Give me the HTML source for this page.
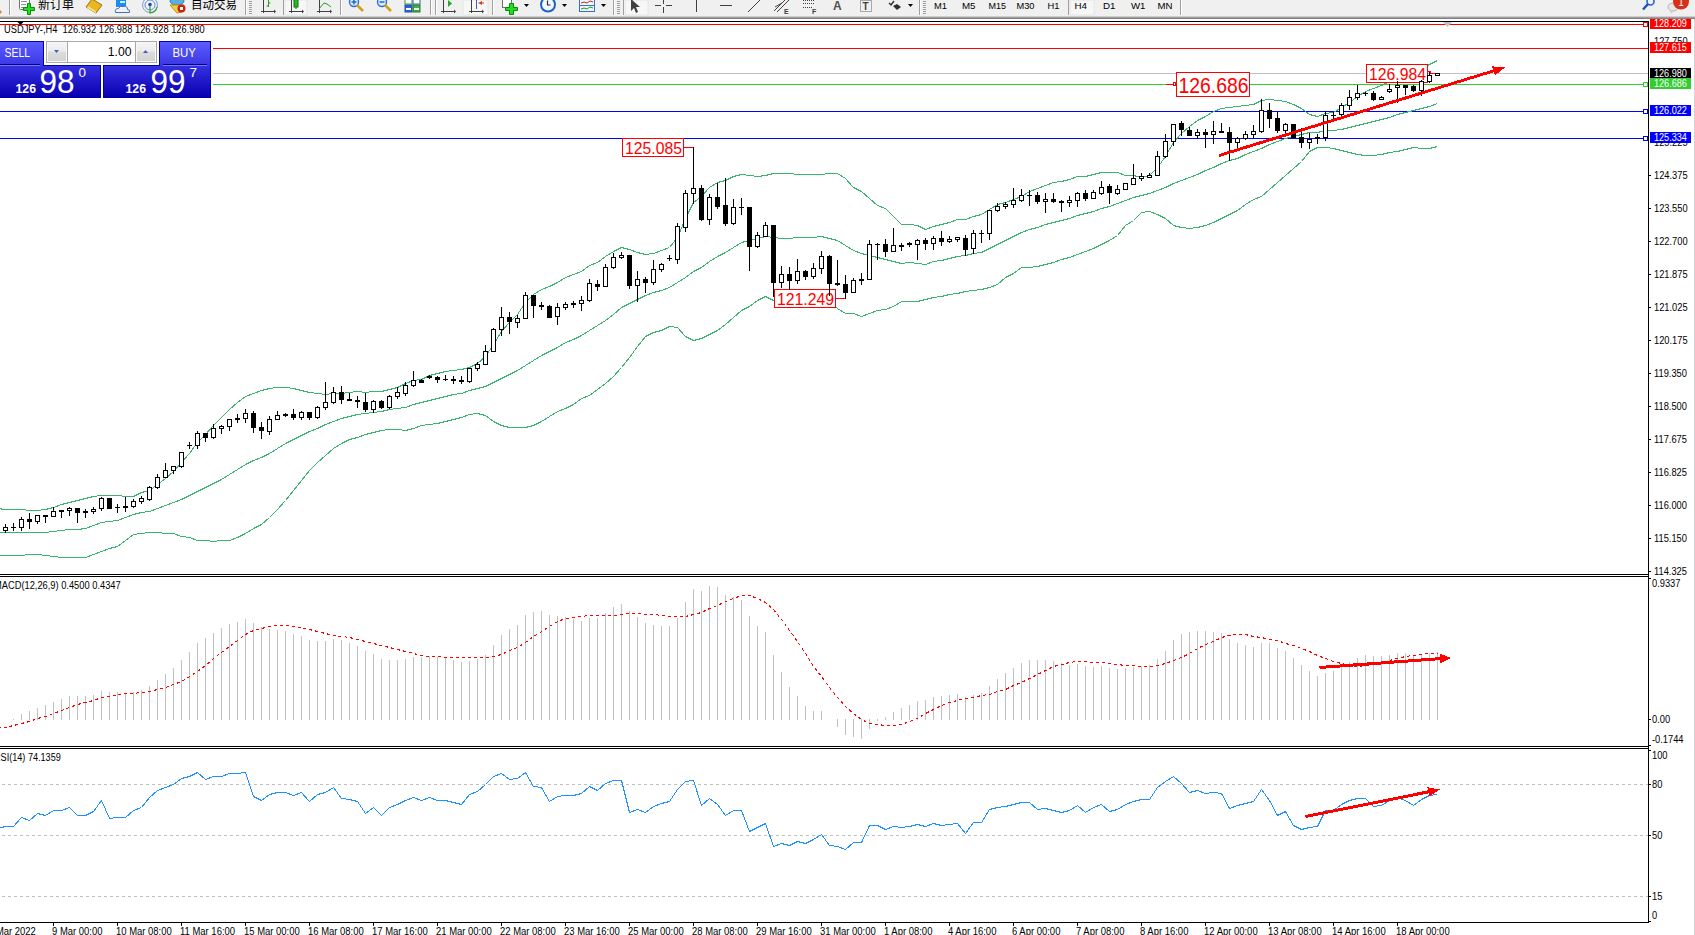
<!DOCTYPE html>
<html><head><meta charset="utf-8"><title>MT4 USDJPY H4</title>
<style>
html,body{margin:0;padding:0;width:1695px;height:935px;overflow:hidden;background:#fff}
body{position:relative;font-family:'Liberation Sans', Arial, sans-serif}
</style></head><body>
<svg id="chart" width="1695" height="935" viewBox="0 0 1695 935" style="position:absolute;left:0;top:0" font-family="'Liberation Sans', Arial, sans-serif"><rect x="0" y="0" width="1695" height="935" fill="#fff"/><rect x="1694" y="17" width="1" height="918" fill="#d4d4d4"/><rect x="0" y="24" width="1648" height="1" fill="#ff0000"/><rect x="0" y="48" width="1648" height="1" fill="#ff0000"/><rect x="0" y="73" width="1648" height="1" fill="#c0c0c0"/><rect x="0" y="84" width="1648" height="1" fill="#32cd32"/><rect x="0" y="111" width="1648" height="1" fill="#0000ff"/><rect x="0" y="138" width="1648" height="1" fill="#0000ff"/><polyline points="-2.5,508.5 5.5,509.5 13.5,509.5 21.5,509.5 29.5,510.5 37.5,510.5 45.5,509.5 53.5,507.5 61.5,504.5 69.5,502.5 77.5,500.5 85.5,498.5 93.5,496.5 101.5,495.5 109.5,495.5 117.5,495.5 125.5,496.5 133.5,496.5 141.5,492.5 149.5,490.5 157.5,484.5 165.5,478.5 173.5,471.5 181.5,462.5 189.5,453.5 197.5,442.5 205.5,434.5 213.5,425.5 221.5,417.5 229.5,409.5 237.5,402.5 245.5,396.5 253.5,393.5 261.5,390.5 269.5,388.5 277.5,387.5 285.5,387.5 293.5,388.5 301.5,390.5 309.5,392.5 317.5,393.5 325.5,394.5 333.5,393.5 341.5,393.5 349.5,392.5 357.5,391.5 365.5,392.5 373.5,391.5 381.5,391.5 389.5,389.5 397.5,387.5 405.5,383.5 413.5,380.5 421.5,379.5 429.5,375.5 437.5,373.5 445.5,371.5 453.5,370.5 461.5,369.5 469.5,367.5 477.5,363.5 485.5,356.5 493.5,344.5 501.5,331.5 509.5,322.5 517.5,314.5 525.5,302.5 533.5,294.5 541.5,289.5 549.5,286.5 557.5,282.5 565.5,277.5 573.5,274.5 581.5,271.5 589.5,265.5 597.5,262.5 605.5,256.5 613.5,251.5 621.5,247.5 629.5,249.5 637.5,252.5 645.5,254.5 653.5,253.5 661.5,250.5 669.5,247.5 677.5,237.5 685.5,218.5 693.5,202.5 701.5,196.5 709.5,187.5 717.5,182.5 725.5,180.5 733.5,176.5 741.5,174.5 749.5,175.5 757.5,176.5 765.5,175.5 773.5,173.5 781.5,173.5 789.5,173.5 797.5,174.5 805.5,174.5 813.5,174.5 821.5,174.5 829.5,173.5 837.5,173.5 845.5,178.5 853.5,187.5 861.5,191.5 869.5,198.5 877.5,205.5 885.5,208.5 893.5,216.5 901.5,224.5 909.5,224.5 917.5,225.5 925.5,229.5 933.5,226.5 941.5,224.5 949.5,222.5 957.5,219.5 965.5,219.5 973.5,216.5 981.5,214.5 989.5,209.5 997.5,204.5 1005.5,202.5 1013.5,199.5 1021.5,196.5 1029.5,191.5 1037.5,188.5 1045.5,185.5 1053.5,182.5 1061.5,181.5 1069.5,179.5 1077.5,176.5 1085.5,176.5 1093.5,174.5 1101.5,172.5 1109.5,172.5 1117.5,172.5 1125.5,175.5 1133.5,175.5 1141.5,177.5 1149.5,175.5 1157.5,167.5 1165.5,156.5 1173.5,142.5 1181.5,133.5 1189.5,126.5 1197.5,120.5 1205.5,116.5 1213.5,111.5 1221.5,108.5 1229.5,107.5 1237.5,106.5 1245.5,105.5 1253.5,104.5 1261.5,100.5 1269.5,99.5 1277.5,100.5 1285.5,101.5 1293.5,104.5 1301.5,108.5 1309.5,114.5 1317.5,116.5 1325.5,113.5 1333.5,112.5 1341.5,107.5 1349.5,102.5 1357.5,96.5 1365.5,91.5 1373.5,88.5 1381.5,85.5 1389.5,81.5 1397.5,77.5 1405.5,74.5 1413.5,72.5 1421.5,68.5 1429.5,64.5 1437.5,60.5" fill="none" stroke="#3cb371" stroke-width="1" shape-rendering="crispEdges"/><polyline points="-2.5,532.5 5.5,532.5 13.5,532.5 21.5,532.5 29.5,532.5 37.5,532.5 45.5,532.5 53.5,531.5 61.5,530.5 69.5,529.5 77.5,529.5 85.5,528.5 93.5,525.5 101.5,522.5 109.5,521.5 117.5,520.5 125.5,517.5 133.5,514.5 141.5,512.5 149.5,511.5 157.5,508.5 165.5,505.5 173.5,502.5 181.5,499.5 189.5,495.5 197.5,491.5 205.5,487.5 213.5,483.5 221.5,479.5 229.5,474.5 237.5,469.5 245.5,464.5 253.5,460.5 261.5,457.5 269.5,453.5 277.5,448.5 285.5,443.5 293.5,439.5 301.5,435.5 309.5,431.5 317.5,428.5 325.5,424.5 333.5,421.5 341.5,418.5 349.5,416.5 357.5,414.5 365.5,413.5 373.5,412.5 381.5,411.5 389.5,409.5 397.5,408.5 405.5,407.5 413.5,404.5 421.5,402.5 429.5,400.5 437.5,398.5 445.5,396.5 453.5,394.5 461.5,393.5 469.5,390.5 477.5,388.5 485.5,386.5 493.5,382.5 501.5,378.5 509.5,374.5 517.5,370.5 525.5,365.5 533.5,360.5 541.5,355.5 549.5,351.5 557.5,347.5 565.5,342.5 573.5,339.5 581.5,335.5 589.5,330.5 597.5,325.5 605.5,320.5 613.5,314.5 621.5,307.5 629.5,303.5 637.5,299.5 645.5,295.5 653.5,292.5 661.5,290.5 669.5,287.5 677.5,282.5 685.5,277.5 693.5,271.5 701.5,267.5 709.5,261.5 717.5,256.5 725.5,252.5 733.5,247.5 741.5,242.5 749.5,240.5 757.5,238.5 765.5,236.5 773.5,237.5 781.5,238.5 789.5,238.5 797.5,237.5 805.5,237.5 813.5,237.5 821.5,236.5 829.5,238.5 837.5,240.5 845.5,245.5 853.5,250.5 861.5,253.5 869.5,255.5 877.5,257.5 885.5,259.5 893.5,261.5 901.5,263.5 909.5,262.5 917.5,263.5 925.5,264.5 933.5,261.5 941.5,260.5 949.5,258.5 957.5,256.5 965.5,255.5 973.5,253.5 981.5,252.5 989.5,248.5 997.5,244.5 1005.5,240.5 1013.5,236.5 1021.5,232.5 1029.5,229.5 1037.5,227.5 1045.5,224.5 1053.5,222.5 1061.5,220.5 1069.5,218.5 1077.5,215.5 1085.5,213.5 1093.5,211.5 1101.5,208.5 1109.5,206.5 1117.5,203.5 1125.5,200.5 1133.5,197.5 1141.5,195.5 1149.5,193.5 1157.5,190.5 1165.5,187.5 1173.5,183.5 1181.5,180.5 1189.5,177.5 1197.5,174.5 1205.5,170.5 1213.5,167.5 1221.5,163.5 1229.5,160.5 1237.5,158.5 1245.5,154.5 1253.5,151.5 1261.5,148.5 1269.5,144.5 1277.5,141.5 1285.5,138.5 1293.5,136.5 1301.5,134.5 1309.5,132.5 1317.5,132.5 1325.5,130.5 1333.5,130.5 1341.5,129.5 1349.5,127.5 1357.5,125.5 1365.5,123.5 1373.5,121.5 1381.5,119.5 1389.5,117.5 1397.5,114.5 1405.5,112.5 1413.5,110.5 1421.5,108.5 1429.5,106.5 1437.5,103.5" fill="none" stroke="#3cb371" stroke-width="1" shape-rendering="crispEdges"/><polyline points="-2.5,555.5 5.5,555.5 13.5,555.5 21.5,555.5 29.5,554.5 37.5,554.5 45.5,555.5 53.5,556.5 61.5,557.5 69.5,557.5 77.5,557.5 85.5,557.5 93.5,554.5 101.5,551.5 109.5,548.5 117.5,546.5 125.5,540.5 133.5,534.5 141.5,533.5 149.5,532.5 157.5,532.5 165.5,533.5 173.5,533.5 181.5,536.5 189.5,537.5 197.5,540.5 205.5,540.5 213.5,541.5 221.5,540.5 229.5,540.5 237.5,537.5 245.5,533.5 253.5,528.5 261.5,524.5 269.5,517.5 277.5,509.5 285.5,500.5 293.5,490.5 301.5,480.5 309.5,470.5 317.5,462.5 325.5,455.5 333.5,448.5 341.5,443.5 349.5,439.5 357.5,437.5 365.5,434.5 373.5,432.5 381.5,430.5 389.5,429.5 397.5,429.5 405.5,430.5 413.5,428.5 421.5,425.5 429.5,424.5 437.5,423.5 445.5,421.5 453.5,419.5 461.5,417.5 469.5,414.5 477.5,413.5 485.5,415.5 493.5,421.5 501.5,425.5 509.5,427.5 517.5,427.5 525.5,427.5 533.5,425.5 541.5,421.5 549.5,416.5 557.5,411.5 565.5,408.5 573.5,404.5 581.5,398.5 589.5,395.5 597.5,389.5 605.5,383.5 613.5,376.5 621.5,367.5 629.5,357.5 637.5,346.5 645.5,336.5 653.5,332.5 661.5,330.5 669.5,326.5 677.5,327.5 685.5,336.5 693.5,340.5 701.5,338.5 709.5,334.5 717.5,330.5 725.5,324.5 733.5,317.5 741.5,310.5 749.5,306.5 757.5,300.5 765.5,296.5 773.5,300.5 781.5,303.5 789.5,302.5 797.5,301.5 805.5,300.5 813.5,299.5 821.5,298.5 829.5,302.5 837.5,308.5 845.5,313.5 853.5,313.5 861.5,316.5 869.5,313.5 877.5,310.5 885.5,309.5 893.5,306.5 901.5,301.5 909.5,301.5 917.5,301.5 925.5,299.5 933.5,297.5 941.5,296.5 949.5,294.5 957.5,293.5 965.5,291.5 973.5,290.5 981.5,289.5 989.5,287.5 997.5,284.5 1005.5,277.5 1013.5,273.5 1021.5,267.5 1029.5,267.5 1037.5,266.5 1045.5,264.5 1053.5,262.5 1061.5,259.5 1069.5,257.5 1077.5,254.5 1085.5,251.5 1093.5,248.5 1101.5,244.5 1109.5,240.5 1117.5,235.5 1125.5,225.5 1133.5,220.5 1141.5,212.5 1149.5,211.5 1157.5,214.5 1165.5,218.5 1173.5,225.5 1181.5,227.5 1189.5,228.5 1197.5,227.5 1205.5,225.5 1213.5,222.5 1221.5,218.5 1229.5,214.5 1237.5,210.5 1245.5,204.5 1253.5,199.5 1261.5,196.5 1269.5,189.5 1277.5,182.5 1285.5,175.5 1293.5,168.5 1301.5,161.5 1309.5,151.5 1317.5,147.5 1325.5,147.5 1333.5,148.5 1341.5,150.5 1349.5,152.5 1357.5,154.5 1365.5,155.5 1373.5,155.5 1381.5,154.5 1389.5,152.5 1397.5,151.5 1405.5,149.5 1413.5,147.5 1421.5,148.5 1429.5,148.5 1437.5,146.5" fill="none" stroke="#3cb371" stroke-width="1" shape-rendering="crispEdges"/><rect x="622.5" y="138.5" width="61" height="18" fill="#fff" stroke="#ff0000" stroke-width="1" shape-rendering="crispEdges"/><text x="625" y="154" font-size="16.5" fill="#ff0000" text-anchor="start" font-weight="normal" textLength="57" lengthAdjust="spacingAndGlyphs">125.085</text><rect x="684" y="147" width="10" height="1" fill="#ff0000"/><rect x="774.5" y="289.5" width="61" height="18" fill="#fff" stroke="#ff0000" stroke-width="1" shape-rendering="crispEdges"/><text x="777" y="305" font-size="16.5" fill="#ff0000" text-anchor="start" font-weight="normal" textLength="57" lengthAdjust="spacingAndGlyphs">121.249</text><rect x="836" y="298" width="10" height="1" fill="#ff0000"/><rect x="1176.5" y="72.5" width="73" height="24" fill="#fff" stroke="#ff0000" stroke-width="1" shape-rendering="crispEdges"/><text x="1178.5" y="93" font-size="22" fill="#ff0000" text-anchor="start" font-weight="normal" textLength="70" lengthAdjust="spacingAndGlyphs">126.686</text><rect x="1173.5" y="82.5" width="2" height="3" fill="#fff" stroke="#ff0000" stroke-width="1" shape-rendering="crispEdges"/><rect x="1166" y="84" width="7" height="1" fill="#ff0000"/><rect x="1366.5" y="64.5" width="61" height="18" fill="#fff" stroke="#ff0000" stroke-width="1" shape-rendering="crispEdges"/><text x="1369" y="80" font-size="16.5" fill="#ff0000" text-anchor="start" font-weight="normal" textLength="57" lengthAdjust="spacingAndGlyphs">126.984</text><rect x="1428" y="71" width="2" height="1" fill="#ff0000"/><rect x="1430" y="71" width="1" height="3" fill="#ff0000"/><rect x="1430" y="73" width="6" height="1" fill="#ff0000"/><g fill="#000"><rect x="5" y="524" width="1" height="9"/><rect x="3" y="527" width="5" height="4"/><rect x="13" y="523" width="1" height="8"/><rect x="11" y="527" width="5" height="1"/><rect x="21" y="517" width="1" height="14"/><rect x="19" y="519" width="5" height="9"/><rect x="29" y="513" width="1" height="16"/><rect x="27" y="519" width="5" height="3"/><rect x="37" y="515" width="1" height="9"/><rect x="35" y="515" width="5" height="7"/><rect x="45" y="515" width="1" height="8"/><rect x="43" y="515" width="5" height="2"/><rect x="53" y="507" width="1" height="10"/><rect x="51" y="511" width="5" height="6"/><rect x="61" y="510" width="1" height="8"/><rect x="59" y="510" width="5" height="2"/><rect x="69" y="507" width="1" height="9"/><rect x="67" y="508" width="5" height="3"/><rect x="77" y="508" width="1" height="15"/><rect x="75" y="508" width="5" height="5"/><rect x="85" y="509" width="1" height="9"/><rect x="83" y="511" width="5" height="2"/><rect x="93" y="507" width="1" height="7"/><rect x="91" y="509" width="5" height="3"/><rect x="101" y="497" width="1" height="14"/><rect x="99" y="498" width="5" height="11"/><rect x="109" y="498" width="1" height="11"/><rect x="107" y="498" width="5" height="11"/><rect x="117" y="504" width="1" height="9"/><rect x="115" y="507" width="5" height="1"/><rect x="125" y="497" width="1" height="15"/><rect x="123" y="506" width="5" height="2"/><rect x="133" y="499" width="1" height="9"/><rect x="131" y="501" width="5" height="6"/><rect x="141" y="496" width="1" height="8"/><rect x="139" y="498" width="5" height="4"/><rect x="149" y="486" width="1" height="15"/><rect x="147" y="487" width="5" height="13"/><rect x="157" y="474" width="1" height="15"/><rect x="155" y="477" width="5" height="11"/><rect x="165" y="463" width="1" height="15"/><rect x="163" y="470" width="5" height="8"/><rect x="173" y="466" width="1" height="8"/><rect x="171" y="466" width="5" height="5"/><rect x="181" y="452" width="1" height="16"/><rect x="179" y="452" width="5" height="15"/><rect x="189" y="442" width="1" height="7"/><rect x="187" y="445" width="5" height="1"/><rect x="197" y="431" width="1" height="18"/><rect x="195" y="433" width="5" height="13"/><rect x="205" y="433" width="1" height="9"/><rect x="203" y="433" width="5" height="5"/><rect x="213" y="424" width="1" height="15"/><rect x="211" y="428" width="5" height="10"/><rect x="221" y="425" width="1" height="9"/><rect x="219" y="426" width="5" height="3"/><rect x="229" y="419" width="1" height="12"/><rect x="227" y="419" width="5" height="8"/><rect x="237" y="414" width="1" height="9"/><rect x="235" y="418" width="5" height="2"/><rect x="245" y="409" width="1" height="14"/><rect x="243" y="413" width="5" height="6"/><rect x="253" y="411" width="1" height="22"/><rect x="251" y="413" width="5" height="15"/><rect x="261" y="422" width="1" height="17"/><rect x="259" y="427" width="5" height="4"/><rect x="269" y="416" width="1" height="19"/><rect x="267" y="419" width="5" height="13"/><rect x="277" y="411" width="1" height="9"/><rect x="275" y="415" width="5" height="5"/><rect x="285" y="413" width="1" height="4"/><rect x="283" y="414" width="5" height="2"/><rect x="293" y="409" width="1" height="11"/><rect x="291" y="414" width="5" height="4"/><rect x="301" y="411" width="1" height="9"/><rect x="299" y="412" width="5" height="6"/><rect x="309" y="412" width="1" height="8"/><rect x="307" y="412" width="5" height="6"/><rect x="317" y="406" width="1" height="13"/><rect x="315" y="407" width="5" height="11"/><rect x="325" y="382" width="1" height="28"/><rect x="323" y="402" width="5" height="6"/><rect x="333" y="387" width="1" height="17"/><rect x="331" y="392" width="5" height="11"/><rect x="341" y="386" width="1" height="18"/><rect x="339" y="392" width="5" height="8"/><rect x="349" y="393" width="1" height="8"/><rect x="347" y="399" width="5" height="2"/><rect x="357" y="396" width="1" height="12"/><rect x="355" y="400" width="5" height="2"/><rect x="365" y="393" width="1" height="19"/><rect x="363" y="402" width="5" height="8"/><rect x="373" y="400" width="1" height="13"/><rect x="371" y="401" width="5" height="9"/><rect x="381" y="400" width="1" height="9"/><rect x="379" y="401" width="5" height="7"/><rect x="389" y="395" width="1" height="14"/><rect x="387" y="396" width="5" height="12"/><rect x="397" y="387" width="1" height="12"/><rect x="395" y="392" width="5" height="5"/><rect x="405" y="382" width="1" height="14"/><rect x="403" y="385" width="5" height="9"/><rect x="413" y="371" width="1" height="16"/><rect x="411" y="380" width="5" height="6"/><rect x="421" y="379" width="1" height="4"/><rect x="419" y="380" width="5" height="3"/><rect x="429" y="375" width="1" height="4"/><rect x="427" y="376" width="5" height="2"/><rect x="437" y="376" width="1" height="7"/><rect x="435" y="377" width="5" height="3"/><rect x="445" y="375" width="1" height="6"/><rect x="443" y="379" width="5" height="1"/><rect x="453" y="376" width="1" height="8"/><rect x="451" y="379" width="5" height="2"/><rect x="461" y="376" width="1" height="8"/><rect x="459" y="380" width="5" height="2"/><rect x="469" y="368" width="1" height="15"/><rect x="467" y="368" width="5" height="14"/><rect x="477" y="362" width="1" height="9"/><rect x="475" y="364" width="5" height="5"/><rect x="485" y="345" width="1" height="20"/><rect x="483" y="351" width="5" height="14"/><rect x="493" y="328" width="1" height="24"/><rect x="491" y="329" width="5" height="23"/><rect x="501" y="307" width="1" height="29"/><rect x="499" y="317" width="5" height="13"/><rect x="509" y="312" width="1" height="22"/><rect x="507" y="317" width="5" height="5"/><rect x="517" y="315" width="1" height="13"/><rect x="515" y="318" width="5" height="5"/><rect x="525" y="292" width="1" height="27"/><rect x="523" y="295" width="5" height="24"/><rect x="533" y="295" width="1" height="23"/><rect x="531" y="295" width="5" height="11"/><rect x="541" y="302" width="1" height="8"/><rect x="539" y="305" width="5" height="2"/><rect x="549" y="305" width="1" height="13"/><rect x="547" y="306" width="5" height="12"/><rect x="557" y="303" width="1" height="22"/><rect x="555" y="307" width="5" height="10"/><rect x="565" y="302" width="1" height="8"/><rect x="563" y="304" width="5" height="4"/><rect x="573" y="301" width="1" height="7"/><rect x="571" y="303" width="5" height="2"/><rect x="581" y="296" width="1" height="15"/><rect x="579" y="300" width="5" height="4"/><rect x="589" y="279" width="1" height="23"/><rect x="587" y="283" width="5" height="18"/><rect x="597" y="280" width="1" height="11"/><rect x="595" y="284" width="5" height="3"/><rect x="605" y="264" width="1" height="23"/><rect x="603" y="267" width="5" height="20"/><rect x="613" y="253" width="1" height="16"/><rect x="611" y="257" width="5" height="11"/><rect x="621" y="252" width="1" height="7"/><rect x="619" y="255" width="5" height="3"/><rect x="629" y="255" width="1" height="34"/><rect x="627" y="255" width="5" height="31"/><rect x="637" y="271" width="1" height="31"/><rect x="635" y="279" width="5" height="7"/><rect x="645" y="277" width="1" height="16"/><rect x="643" y="279" width="5" height="4"/><rect x="653" y="260" width="1" height="25"/><rect x="651" y="269" width="5" height="14"/><rect x="661" y="263" width="1" height="9"/><rect x="659" y="264" width="5" height="6"/><rect x="669" y="255" width="1" height="6"/><rect x="667" y="258" width="5" height="1"/><rect x="677" y="223" width="1" height="41"/><rect x="675" y="226" width="5" height="34"/><rect x="685" y="190" width="1" height="42"/><rect x="683" y="193" width="5" height="35"/><rect x="693" y="147" width="1" height="57"/><rect x="691" y="188" width="5" height="6"/><rect x="701" y="185" width="1" height="36"/><rect x="699" y="188" width="5" height="32"/><rect x="709" y="194" width="1" height="31"/><rect x="707" y="197" width="5" height="23"/><rect x="717" y="183" width="1" height="26"/><rect x="715" y="197" width="5" height="10"/><rect x="725" y="178" width="1" height="48"/><rect x="723" y="205" width="5" height="19"/><rect x="733" y="199" width="1" height="26"/><rect x="731" y="207" width="5" height="17"/><rect x="741" y="198" width="1" height="17"/><rect x="739" y="207" width="5" height="1"/><rect x="749" y="207" width="1" height="64"/><rect x="747" y="207" width="5" height="40"/><rect x="757" y="232" width="1" height="16"/><rect x="755" y="235" width="5" height="12"/><rect x="765" y="222" width="1" height="15"/><rect x="763" y="225" width="5" height="12"/><rect x="773" y="225" width="1" height="72"/><rect x="771" y="225" width="5" height="58"/><rect x="781" y="266" width="1" height="22"/><rect x="779" y="274" width="5" height="9"/><rect x="789" y="267" width="1" height="23"/><rect x="787" y="274" width="5" height="7"/><rect x="797" y="259" width="1" height="25"/><rect x="795" y="271" width="5" height="10"/><rect x="805" y="270" width="1" height="10"/><rect x="803" y="271" width="5" height="6"/><rect x="813" y="263" width="1" height="16"/><rect x="811" y="268" width="5" height="9"/><rect x="821" y="251" width="1" height="23"/><rect x="819" y="256" width="5" height="13"/><rect x="829" y="255" width="1" height="41"/><rect x="827" y="256" width="5" height="28"/><rect x="837" y="260" width="1" height="26"/><rect x="835" y="283" width="5" height="2"/><rect x="845" y="275" width="1" height="24"/><rect x="843" y="284" width="5" height="9"/><rect x="853" y="278" width="1" height="15"/><rect x="851" y="280" width="5" height="13"/><rect x="861" y="273" width="1" height="12"/><rect x="859" y="279" width="5" height="2"/><rect x="869" y="240" width="1" height="40"/><rect x="867" y="244" width="5" height="36"/><rect x="877" y="243" width="1" height="17"/><rect x="875" y="244" width="5" height="1"/><rect x="885" y="239" width="1" height="18"/><rect x="883" y="244" width="5" height="8"/><rect x="893" y="228" width="1" height="24"/><rect x="891" y="245" width="5" height="7"/><rect x="901" y="243" width="1" height="8"/><rect x="899" y="245" width="5" height="2"/><rect x="909" y="242" width="1" height="5"/><rect x="907" y="243" width="5" height="2"/><rect x="917" y="239" width="1" height="21"/><rect x="915" y="240" width="5" height="5"/><rect x="925" y="238" width="1" height="12"/><rect x="923" y="240" width="5" height="4"/><rect x="933" y="236" width="1" height="14"/><rect x="931" y="238" width="5" height="6"/><rect x="941" y="231" width="1" height="15"/><rect x="939" y="238" width="5" height="4"/><rect x="949" y="236" width="1" height="7"/><rect x="947" y="239" width="5" height="3"/><rect x="957" y="237" width="1" height="5"/><rect x="955" y="237" width="5" height="3"/><rect x="965" y="235" width="1" height="21"/><rect x="963" y="238" width="5" height="12"/><rect x="973" y="230" width="1" height="24"/><rect x="971" y="233" width="5" height="16"/><rect x="981" y="230" width="1" height="13"/><rect x="979" y="233" width="5" height="1"/><rect x="989" y="210" width="1" height="30"/><rect x="987" y="210" width="5" height="24"/><rect x="997" y="203" width="1" height="9"/><rect x="995" y="206" width="5" height="5"/><rect x="1005" y="202" width="1" height="7"/><rect x="1003" y="204" width="5" height="3"/><rect x="1013" y="188" width="1" height="20"/><rect x="1011" y="200" width="5" height="5"/><rect x="1021" y="189" width="1" height="13"/><rect x="1019" y="195" width="5" height="6"/><rect x="1029" y="190" width="1" height="16"/><rect x="1027" y="195" width="5" height="1"/><rect x="1037" y="192" width="1" height="12"/><rect x="1035" y="195" width="5" height="7"/><rect x="1045" y="193" width="1" height="20"/><rect x="1043" y="199" width="5" height="3"/><rect x="1053" y="193" width="1" height="10"/><rect x="1051" y="199" width="5" height="3"/><rect x="1061" y="200" width="1" height="12"/><rect x="1059" y="201" width="5" height="2"/><rect x="1069" y="196" width="1" height="11"/><rect x="1067" y="200" width="5" height="3"/><rect x="1077" y="192" width="1" height="15"/><rect x="1075" y="193" width="5" height="8"/><rect x="1085" y="190" width="1" height="11"/><rect x="1083" y="193" width="5" height="6"/><rect x="1093" y="190" width="1" height="9"/><rect x="1091" y="192" width="5" height="7"/><rect x="1101" y="181" width="1" height="14"/><rect x="1099" y="187" width="5" height="7"/><rect x="1109" y="184" width="1" height="20"/><rect x="1107" y="186" width="5" height="7"/><rect x="1117" y="185" width="1" height="10"/><rect x="1115" y="189" width="5" height="5"/><rect x="1125" y="183" width="1" height="7"/><rect x="1123" y="183" width="5" height="7"/><rect x="1133" y="164" width="1" height="21"/><rect x="1131" y="178" width="5" height="7"/><rect x="1141" y="173" width="1" height="8"/><rect x="1139" y="176" width="5" height="3"/><rect x="1149" y="173" width="1" height="5"/><rect x="1147" y="175" width="5" height="3"/><rect x="1157" y="151" width="1" height="25"/><rect x="1155" y="156" width="5" height="20"/><rect x="1165" y="134" width="1" height="24"/><rect x="1163" y="141" width="5" height="16"/><rect x="1173" y="124" width="1" height="22"/><rect x="1171" y="124" width="5" height="18"/><rect x="1181" y="121" width="1" height="15"/><rect x="1179" y="123" width="5" height="7"/><rect x="1189" y="127" width="1" height="9"/><rect x="1187" y="130" width="5" height="6"/><rect x="1197" y="129" width="1" height="10"/><rect x="1195" y="132" width="5" height="4"/><rect x="1205" y="129" width="1" height="19"/><rect x="1203" y="132" width="5" height="3"/><rect x="1213" y="121" width="1" height="23"/><rect x="1211" y="131" width="5" height="4"/><rect x="1221" y="123" width="1" height="10"/><rect x="1219" y="131" width="5" height="2"/><rect x="1229" y="127" width="1" height="34"/><rect x="1227" y="132" width="5" height="11"/><rect x="1237" y="137" width="1" height="12"/><rect x="1235" y="138" width="5" height="5"/><rect x="1245" y="131" width="1" height="9"/><rect x="1243" y="134" width="5" height="5"/><rect x="1253" y="125" width="1" height="13"/><rect x="1251" y="131" width="5" height="4"/><rect x="1261" y="99" width="1" height="34"/><rect x="1259" y="110" width="5" height="22"/><rect x="1269" y="103" width="1" height="25"/><rect x="1267" y="110" width="5" height="9"/><rect x="1277" y="112" width="1" height="21"/><rect x="1275" y="118" width="5" height="13"/><rect x="1285" y="123" width="1" height="11"/><rect x="1283" y="124" width="5" height="7"/><rect x="1293" y="124" width="1" height="14"/><rect x="1291" y="124" width="5" height="14"/><rect x="1301" y="128" width="1" height="20"/><rect x="1299" y="137" width="5" height="6"/><rect x="1309" y="133" width="1" height="16"/><rect x="1307" y="139" width="5" height="4"/><rect x="1317" y="134" width="1" height="10"/><rect x="1315" y="137" width="5" height="2"/><rect x="1325" y="111" width="1" height="30"/><rect x="1323" y="115" width="5" height="23"/><rect x="1333" y="112" width="1" height="7"/><rect x="1331" y="115" width="5" height="1"/><rect x="1341" y="103" width="1" height="13"/><rect x="1339" y="105" width="5" height="10"/><rect x="1349" y="90" width="1" height="20"/><rect x="1347" y="97" width="5" height="9"/><rect x="1357" y="85" width="1" height="15"/><rect x="1355" y="93" width="5" height="5"/><rect x="1365" y="92" width="1" height="4"/><rect x="1363" y="93" width="5" height="1"/><rect x="1373" y="91" width="1" height="10"/><rect x="1371" y="93" width="5" height="7"/><rect x="1381" y="96" width="1" height="4"/><rect x="1379" y="97" width="5" height="3"/><rect x="1389" y="84" width="1" height="9"/><rect x="1387" y="89" width="5" height="3"/><rect x="1397" y="81" width="1" height="22"/><rect x="1395" y="85" width="5" height="3"/><rect x="1405" y="85" width="1" height="10"/><rect x="1403" y="85" width="5" height="3"/><rect x="1413" y="85" width="1" height="7"/><rect x="1411" y="86" width="5" height="5"/><rect x="1421" y="80" width="1" height="16"/><rect x="1419" y="81" width="5" height="10"/><rect x="1429" y="72" width="1" height="11"/><rect x="1427" y="75" width="5" height="7"/><rect x="1437" y="73" width="1" height="3"/><rect x="1435" y="73" width="5" height="3"/></g><g fill="#fff"><rect x="4" y="528" width="3" height="2"/><rect x="20" y="520" width="3" height="7"/><rect x="36" y="516" width="3" height="5"/><rect x="52" y="512" width="3" height="4"/><rect x="68" y="509" width="3" height="1"/><rect x="92" y="510" width="3" height="1"/><rect x="100" y="499" width="3" height="9"/><rect x="132" y="502" width="3" height="4"/><rect x="140" y="499" width="3" height="2"/><rect x="148" y="488" width="3" height="11"/><rect x="156" y="478" width="3" height="9"/><rect x="164" y="471" width="3" height="6"/><rect x="172" y="467" width="3" height="3"/><rect x="180" y="453" width="3" height="13"/><rect x="196" y="434" width="3" height="11"/><rect x="212" y="429" width="3" height="8"/><rect x="220" y="427" width="3" height="1"/><rect x="228" y="420" width="3" height="6"/><rect x="244" y="414" width="3" height="4"/><rect x="268" y="420" width="3" height="11"/><rect x="276" y="416" width="3" height="3"/><rect x="300" y="413" width="3" height="4"/><rect x="316" y="408" width="3" height="9"/><rect x="324" y="403" width="3" height="4"/><rect x="332" y="393" width="3" height="9"/><rect x="372" y="402" width="3" height="7"/><rect x="388" y="397" width="3" height="10"/><rect x="396" y="393" width="3" height="3"/><rect x="404" y="386" width="3" height="7"/><rect x="412" y="381" width="3" height="4"/><rect x="468" y="369" width="3" height="12"/><rect x="476" y="365" width="3" height="3"/><rect x="484" y="352" width="3" height="12"/><rect x="492" y="330" width="3" height="21"/><rect x="500" y="318" width="3" height="11"/><rect x="516" y="319" width="3" height="3"/><rect x="524" y="296" width="3" height="22"/><rect x="556" y="308" width="3" height="8"/><rect x="564" y="305" width="3" height="2"/><rect x="580" y="301" width="3" height="2"/><rect x="588" y="284" width="3" height="16"/><rect x="604" y="268" width="3" height="18"/><rect x="612" y="258" width="3" height="9"/><rect x="620" y="256" width="3" height="1"/><rect x="636" y="280" width="3" height="5"/><rect x="652" y="270" width="3" height="12"/><rect x="660" y="265" width="3" height="4"/><rect x="676" y="227" width="3" height="32"/><rect x="684" y="194" width="3" height="33"/><rect x="692" y="189" width="3" height="4"/><rect x="708" y="198" width="3" height="21"/><rect x="732" y="208" width="3" height="15"/><rect x="756" y="236" width="3" height="10"/><rect x="764" y="226" width="3" height="10"/><rect x="780" y="275" width="3" height="7"/><rect x="796" y="272" width="3" height="8"/><rect x="812" y="269" width="3" height="7"/><rect x="820" y="257" width="3" height="11"/><rect x="852" y="281" width="3" height="11"/><rect x="868" y="245" width="3" height="34"/><rect x="892" y="246" width="3" height="5"/><rect x="916" y="241" width="3" height="3"/><rect x="932" y="239" width="3" height="4"/><rect x="948" y="240" width="3" height="1"/><rect x="956" y="238" width="3" height="1"/><rect x="972" y="234" width="3" height="14"/><rect x="988" y="211" width="3" height="22"/><rect x="996" y="207" width="3" height="3"/><rect x="1004" y="205" width="3" height="1"/><rect x="1012" y="201" width="3" height="3"/><rect x="1020" y="196" width="3" height="4"/><rect x="1044" y="200" width="3" height="1"/><rect x="1068" y="201" width="3" height="1"/><rect x="1076" y="194" width="3" height="6"/><rect x="1092" y="193" width="3" height="5"/><rect x="1100" y="188" width="3" height="5"/><rect x="1116" y="190" width="3" height="3"/><rect x="1124" y="184" width="3" height="5"/><rect x="1132" y="179" width="3" height="5"/><rect x="1140" y="177" width="3" height="1"/><rect x="1148" y="176" width="3" height="1"/><rect x="1156" y="157" width="3" height="18"/><rect x="1164" y="142" width="3" height="14"/><rect x="1172" y="125" width="3" height="16"/><rect x="1196" y="133" width="3" height="2"/><rect x="1212" y="132" width="3" height="2"/><rect x="1236" y="139" width="3" height="3"/><rect x="1244" y="135" width="3" height="3"/><rect x="1252" y="132" width="3" height="2"/><rect x="1260" y="111" width="3" height="20"/><rect x="1284" y="125" width="3" height="5"/><rect x="1308" y="140" width="3" height="2"/><rect x="1324" y="116" width="3" height="21"/><rect x="1340" y="106" width="3" height="8"/><rect x="1348" y="98" width="3" height="7"/><rect x="1356" y="94" width="3" height="3"/><rect x="1380" y="98" width="3" height="1"/><rect x="1388" y="90" width="3" height="1"/><rect x="1396" y="86" width="3" height="1"/><rect x="1420" y="82" width="3" height="8"/><rect x="1428" y="76" width="3" height="5"/><rect x="1436" y="74" width="3" height="1"/></g><rect x="1643.5" y="22.5" width="4" height="4" fill="#fff" stroke="#ff0000" stroke-width="1" shape-rendering="crispEdges"/><rect x="1643.5" y="82.5" width="4" height="4" fill="#fff" stroke="#32cd32" stroke-width="1" shape-rendering="crispEdges"/><rect x="1643.5" y="109.5" width="4" height="4" fill="#fff" stroke="#0000ff" stroke-width="1" shape-rendering="crispEdges"/><rect x="1643.5" y="136.5" width="4" height="4" fill="#fff" stroke="#0000ff" stroke-width="1" shape-rendering="crispEdges"/><text x="4" y="33" font-size="10" fill="#000" text-anchor="start" font-weight="normal" textLength="200.8" lengthAdjust="spacingAndGlyphs">USDJPY-,H4&#160;&#160;126.932 126.988 126.928 126.980</text><rect x="0" y="21" width="1649" height="1" fill="#000"/><rect x="0" y="574" width="1649" height="1" fill="#000"/><rect x="0" y="576" width="1649" height="1" fill="#000"/><rect x="0" y="746" width="1649" height="1" fill="#000"/><rect x="0" y="748" width="1649" height="1" fill="#000"/><rect x="0" y="922" width="1649" height="1" fill="#000"/><rect x="1648" y="21" width="1" height="902" fill="#000"/><polygon points="17.5,22 23.5,22 20.5,25" fill="#000"/><polygon points="1443,22 1452,22 1447.5,27" fill="#c0c0c0"/><g fill="#c0c0c0"><rect x="13" y="719" width="1" height="1"/><rect x="21" y="714" width="1" height="6"/><rect x="29" y="711" width="1" height="9"/><rect x="37" y="708" width="1" height="12"/><rect x="45" y="705" width="1" height="15"/><rect x="53" y="702" width="1" height="18"/><rect x="61" y="699" width="1" height="21"/><rect x="69" y="696" width="1" height="24"/><rect x="77" y="696" width="1" height="24"/><rect x="85" y="696" width="1" height="24"/><rect x="93" y="695" width="1" height="25"/><rect x="101" y="691" width="1" height="29"/><rect x="109" y="692" width="1" height="28"/><rect x="117" y="692" width="1" height="28"/><rect x="125" y="693" width="1" height="27"/><rect x="133" y="692" width="1" height="28"/><rect x="141" y="690" width="1" height="30"/><rect x="149" y="686" width="1" height="34"/><rect x="157" y="680" width="1" height="40"/><rect x="165" y="674" width="1" height="46"/><rect x="173" y="668" width="1" height="52"/><rect x="181" y="660" width="1" height="60"/><rect x="189" y="652" width="1" height="68"/><rect x="197" y="643" width="1" height="77"/><rect x="205" y="638" width="1" height="82"/><rect x="213" y="633" width="1" height="87"/><rect x="221" y="628" width="1" height="92"/><rect x="229" y="624" width="1" height="96"/><rect x="237" y="622" width="1" height="98"/><rect x="245" y="619" width="1" height="101"/><rect x="253" y="623" width="1" height="97"/><rect x="261" y="627" width="1" height="93"/><rect x="269" y="629" width="1" height="91"/><rect x="277" y="630" width="1" height="90"/><rect x="285" y="631" width="1" height="89"/><rect x="293" y="634" width="1" height="86"/><rect x="301" y="636" width="1" height="84"/><rect x="309" y="640" width="1" height="80"/><rect x="317" y="641" width="1" height="79"/><rect x="325" y="641" width="1" height="79"/><rect x="333" y="639" width="1" height="81"/><rect x="341" y="640" width="1" height="80"/><rect x="349" y="643" width="1" height="77"/><rect x="357" y="646" width="1" height="74"/><rect x="365" y="651" width="1" height="69"/><rect x="373" y="654" width="1" height="66"/><rect x="381" y="659" width="1" height="61"/><rect x="389" y="660" width="1" height="60"/><rect x="397" y="660" width="1" height="60"/><rect x="405" y="659" width="1" height="61"/><rect x="413" y="657" width="1" height="63"/><rect x="421" y="657" width="1" height="63"/><rect x="429" y="656" width="1" height="64"/><rect x="437" y="657" width="1" height="63"/><rect x="445" y="658" width="1" height="62"/><rect x="453" y="660" width="1" height="60"/><rect x="461" y="662" width="1" height="58"/><rect x="469" y="661" width="1" height="59"/><rect x="477" y="659" width="1" height="61"/><rect x="485" y="655" width="1" height="65"/><rect x="493" y="645" width="1" height="75"/><rect x="501" y="635" width="1" height="85"/><rect x="509" y="629" width="1" height="91"/><rect x="517" y="625" width="1" height="95"/><rect x="525" y="615" width="1" height="105"/><rect x="533" y="612" width="1" height="108"/><rect x="541" y="611" width="1" height="109"/><rect x="549" y="615" width="1" height="105"/><rect x="557" y="616" width="1" height="104"/><rect x="565" y="617" width="1" height="103"/><rect x="573" y="619" width="1" height="101"/><rect x="581" y="621" width="1" height="99"/><rect x="589" y="618" width="1" height="102"/><rect x="597" y="618" width="1" height="102"/><rect x="605" y="613" width="1" height="107"/><rect x="613" y="607" width="1" height="113"/><rect x="621" y="604" width="1" height="116"/><rect x="629" y="611" width="1" height="109"/><rect x="637" y="617" width="1" height="103"/><rect x="645" y="623" width="1" height="97"/><rect x="653" y="625" width="1" height="95"/><rect x="661" y="626" width="1" height="94"/><rect x="669" y="626" width="1" height="94"/><rect x="677" y="618" width="1" height="102"/><rect x="685" y="602" width="1" height="118"/><rect x="693" y="589" width="1" height="131"/><rect x="701" y="591" width="1" height="129"/><rect x="709" y="586" width="1" height="134"/><rect x="717" y="587" width="1" height="133"/><rect x="725" y="595" width="1" height="125"/><rect x="733" y="597" width="1" height="123"/><rect x="741" y="600" width="1" height="120"/><rect x="749" y="616" width="1" height="104"/><rect x="757" y="626" width="1" height="94"/><rect x="765" y="632" width="1" height="88"/><rect x="773" y="655" width="1" height="65"/><rect x="781" y="672" width="1" height="48"/><rect x="789" y="687" width="1" height="33"/><rect x="797" y="696" width="1" height="24"/><rect x="805" y="706" width="1" height="14"/><rect x="813" y="711" width="1" height="9"/><rect x="821" y="711" width="1" height="9"/><rect x="837" y="719" width="1" height="8"/><rect x="845" y="719" width="1" height="16"/><rect x="853" y="719" width="1" height="18"/><rect x="861" y="719" width="1" height="20"/><rect x="869" y="719" width="1" height="10"/><rect x="877" y="719" width="1" height="2"/><rect x="885" y="717" width="1" height="3"/><rect x="893" y="712" width="1" height="8"/><rect x="901" y="708" width="1" height="12"/><rect x="909" y="705" width="1" height="15"/><rect x="917" y="701" width="1" height="19"/><rect x="925" y="700" width="1" height="20"/><rect x="933" y="697" width="1" height="23"/><rect x="941" y="696" width="1" height="24"/><rect x="949" y="695" width="1" height="25"/><rect x="957" y="694" width="1" height="26"/><rect x="965" y="697" width="1" height="23"/><rect x="973" y="695" width="1" height="25"/><rect x="981" y="693" width="1" height="27"/><rect x="989" y="686" width="1" height="34"/><rect x="997" y="679" width="1" height="41"/><rect x="1005" y="673" width="1" height="47"/><rect x="1013" y="668" width="1" height="52"/><rect x="1021" y="663" width="1" height="57"/><rect x="1029" y="660" width="1" height="60"/><rect x="1037" y="660" width="1" height="60"/><rect x="1045" y="660" width="1" height="60"/><rect x="1053" y="661" width="1" height="59"/><rect x="1061" y="663" width="1" height="57"/><rect x="1069" y="665" width="1" height="55"/><rect x="1077" y="664" width="1" height="56"/><rect x="1085" y="666" width="1" height="54"/><rect x="1093" y="667" width="1" height="53"/><rect x="1101" y="666" width="1" height="54"/><rect x="1109" y="668" width="1" height="52"/><rect x="1117" y="669" width="1" height="51"/><rect x="1125" y="668" width="1" height="52"/><rect x="1133" y="667" width="1" height="53"/><rect x="1141" y="666" width="1" height="54"/><rect x="1149" y="665" width="1" height="55"/><rect x="1157" y="659" width="1" height="61"/><rect x="1165" y="651" width="1" height="69"/><rect x="1173" y="640" width="1" height="80"/><rect x="1181" y="634" width="1" height="86"/><rect x="1189" y="632" width="1" height="88"/><rect x="1197" y="631" width="1" height="89"/><rect x="1205" y="631" width="1" height="89"/><rect x="1213" y="632" width="1" height="88"/><rect x="1221" y="633" width="1" height="87"/><rect x="1229" y="639" width="1" height="81"/><rect x="1237" y="643" width="1" height="77"/><rect x="1245" y="645" width="1" height="75"/><rect x="1253" y="647" width="1" height="73"/><rect x="1261" y="643" width="1" height="77"/><rect x="1269" y="643" width="1" height="77"/><rect x="1277" y="648" width="1" height="72"/><rect x="1285" y="651" width="1" height="69"/><rect x="1293" y="658" width="1" height="62"/><rect x="1301" y="665" width="1" height="55"/><rect x="1309" y="671" width="1" height="49"/><rect x="1317" y="676" width="1" height="44"/><rect x="1325" y="673" width="1" height="47"/><rect x="1333" y="671" width="1" height="49"/><rect x="1341" y="667" width="1" height="53"/><rect x="1349" y="662" width="1" height="58"/><rect x="1357" y="658" width="1" height="62"/><rect x="1365" y="655" width="1" height="65"/><rect x="1373" y="656" width="1" height="64"/><rect x="1381" y="656" width="1" height="64"/><rect x="1389" y="655" width="1" height="65"/><rect x="1397" y="653" width="1" height="67"/><rect x="1405" y="653" width="1" height="67"/><rect x="1413" y="655" width="1" height="65"/><rect x="1421" y="654" width="1" height="66"/><rect x="1429" y="653" width="1" height="67"/><rect x="1437" y="652" width="1" height="68"/></g><polyline points="-2.5,727.5 5.5,727.5 13.5,725.5 21.5,723.5 29.5,721.5 37.5,718.5 45.5,716.5 53.5,713.5 61.5,710.5 69.5,707.5 77.5,704.5 85.5,702.5 93.5,700.5 101.5,697.5 109.5,696.5 117.5,694.5 125.5,693.5 133.5,693.5 141.5,692.5 149.5,691.5 157.5,689.5 165.5,687.5 173.5,684.5 181.5,681.5 189.5,676.5 197.5,671.5 205.5,665.5 213.5,658.5 221.5,652.5 229.5,646.5 237.5,640.5 245.5,634.5 253.5,630.5 261.5,628.5 269.5,626.5 277.5,625.5 285.5,625.5 293.5,626.5 301.5,627.5 309.5,629.5 317.5,631.5 325.5,633.5 333.5,635.5 341.5,636.5 349.5,637.5 357.5,639.5 365.5,641.5 373.5,643.5 381.5,645.5 389.5,647.5 397.5,649.5 405.5,651.5 413.5,653.5 421.5,655.5 429.5,656.5 437.5,656.5 445.5,657.5 453.5,657.5 461.5,657.5 469.5,657.5 477.5,657.5 485.5,657.5 493.5,656.5 501.5,654.5 509.5,650.5 517.5,647.5 525.5,642.5 533.5,636.5 541.5,631.5 549.5,626.5 557.5,621.5 565.5,618.5 573.5,617.5 581.5,616.5 589.5,615.5 597.5,615.5 605.5,615.5 613.5,615.5 621.5,614.5 629.5,613.5 637.5,613.5 645.5,614.5 653.5,614.5 661.5,615.5 669.5,616.5 677.5,616.5 685.5,616.5 693.5,614.5 701.5,612.5 709.5,608.5 717.5,605.5 725.5,601.5 733.5,598.5 741.5,595.5 749.5,595.5 757.5,598.5 765.5,602.5 773.5,609.5 781.5,619.5 789.5,630.5 797.5,641.5 805.5,653.5 813.5,666.5 821.5,676.5 829.5,687.5 837.5,697.5 845.5,706.5 853.5,713.5 861.5,719.5 869.5,723.5 877.5,724.5 885.5,725.5 893.5,725.5 901.5,724.5 909.5,721.5 917.5,718.5 925.5,713.5 933.5,709.5 941.5,705.5 949.5,702.5 957.5,700.5 965.5,698.5 973.5,697.5 981.5,695.5 989.5,694.5 997.5,691.5 1005.5,689.5 1013.5,685.5 1021.5,682.5 1029.5,678.5 1037.5,674.5 1045.5,670.5 1053.5,666.5 1061.5,664.5 1069.5,662.5 1077.5,661.5 1085.5,661.5 1093.5,662.5 1101.5,662.5 1109.5,663.5 1117.5,664.5 1125.5,665.5 1133.5,665.5 1141.5,666.5 1149.5,666.5 1157.5,665.5 1165.5,663.5 1173.5,660.5 1181.5,657.5 1189.5,653.5 1197.5,648.5 1205.5,644.5 1213.5,641.5 1221.5,637.5 1229.5,635.5 1237.5,634.5 1245.5,634.5 1253.5,636.5 1261.5,637.5 1269.5,639.5 1277.5,640.5 1285.5,643.5 1293.5,645.5 1301.5,648.5 1309.5,651.5 1317.5,655.5 1325.5,658.5 1333.5,661.5 1341.5,663.5 1349.5,665.5 1357.5,666.5 1365.5,665.5 1373.5,664.5 1381.5,663.5 1389.5,660.5 1397.5,658.5 1405.5,656.5 1413.5,655.5 1421.5,654.5 1429.5,653.5 1437.5,653.5" fill="none" stroke="#ff0000" stroke-width="1" stroke-dasharray="3,3" shape-rendering="crispEdges"/><text x="-6" y="589" font-size="10" fill="#000" text-anchor="start" font-weight="normal" textLength="126.66" lengthAdjust="spacingAndGlyphs">MACD(12,26,9) 0.4500 0.4347</text><line x1="0" y1="784.5" x2="1648" y2="784.5" stroke="#c0c0c0" stroke-width="1" stroke-dasharray="3,3" stroke-dashoffset="4" shape-rendering="crispEdges"/><line x1="0" y1="835.5" x2="1648" y2="835.5" stroke="#c0c0c0" stroke-width="1" stroke-dasharray="3,3" stroke-dashoffset="4" shape-rendering="crispEdges"/><line x1="0" y1="896.5" x2="1648" y2="896.5" stroke="#c0c0c0" stroke-width="1" stroke-dasharray="3,3" stroke-dashoffset="4" shape-rendering="crispEdges"/><polyline points="-2.5,828.5 5.5,826.5 13.5,826.5 21.5,817.5 29.5,820.5 37.5,813.5 45.5,815.5 53.5,810.5 61.5,810.5 69.5,807.5 77.5,815.5 85.5,815.5 93.5,811.5 101.5,800.5 109.5,818.5 117.5,817.5 125.5,817.5 133.5,810.5 141.5,807.5 149.5,797.5 157.5,790.5 165.5,787.5 173.5,784.5 181.5,778.5 189.5,776.5 197.5,772.5 205.5,779.5 213.5,776.5 221.5,776.5 229.5,773.5 237.5,773.5 245.5,772.5 253.5,796.5 261.5,800.5 269.5,794.5 277.5,792.5 285.5,792.5 293.5,795.5 301.5,792.5 309.5,801.5 317.5,794.5 325.5,792.5 333.5,787.5 341.5,798.5 349.5,799.5 357.5,801.5 365.5,813.5 373.5,807.5 381.5,815.5 389.5,807.5 397.5,804.5 405.5,800.5 413.5,797.5 421.5,800.5 429.5,797.5 437.5,800.5 445.5,800.5 453.5,802.5 461.5,804.5 469.5,794.5 477.5,791.5 485.5,784.5 493.5,776.5 501.5,773.5 509.5,779.5 517.5,778.5 525.5,772.5 533.5,786.5 541.5,787.5 549.5,801.5 557.5,796.5 565.5,795.5 573.5,795.5 581.5,793.5 589.5,786.5 597.5,790.5 605.5,783.5 613.5,780.5 621.5,780.5 629.5,812.5 637.5,809.5 645.5,812.5 653.5,806.5 661.5,803.5 669.5,801.5 677.5,789.5 685.5,781.5 693.5,780.5 701.5,805.5 709.5,798.5 717.5,804.5 725.5,815.5 733.5,810.5 741.5,810.5 749.5,831.5 757.5,827.5 765.5,823.5 773.5,846.5 781.5,843.5 789.5,845.5 797.5,841.5 805.5,843.5 813.5,839.5 821.5,834.5 829.5,845.5 837.5,846.5 845.5,849.5 853.5,842.5 861.5,842.5 869.5,825.5 877.5,825.5 885.5,829.5 893.5,826.5 901.5,827.5 909.5,826.5 917.5,824.5 925.5,826.5 933.5,823.5 941.5,825.5 949.5,824.5 957.5,823.5 965.5,833.5 973.5,822.5 981.5,822.5 989.5,809.5 997.5,807.5 1005.5,806.5 1013.5,804.5 1021.5,802.5 1029.5,802.5 1037.5,809.5 1045.5,808.5 1053.5,810.5 1061.5,812.5 1069.5,810.5 1077.5,805.5 1085.5,812.5 1093.5,807.5 1101.5,804.5 1109.5,811.5 1117.5,809.5 1125.5,804.5 1133.5,801.5 1141.5,799.5 1149.5,799.5 1157.5,787.5 1165.5,781.5 1173.5,776.5 1181.5,783.5 1189.5,792.5 1197.5,790.5 1205.5,793.5 1213.5,792.5 1221.5,793.5 1229.5,808.5 1237.5,805.5 1245.5,803.5 1253.5,801.5 1261.5,789.5 1269.5,800.5 1277.5,815.5 1285.5,811.5 1293.5,825.5 1301.5,829.5 1309.5,827.5 1317.5,826.5 1325.5,810.5 1333.5,810.5 1341.5,804.5 1349.5,800.5 1357.5,798.5 1365.5,798.5 1373.5,806.5 1381.5,805.5 1389.5,800.5 1397.5,797.5 1405.5,800.5 1413.5,805.5 1421.5,799.5 1429.5,795.5 1437.5,794.5" fill="none" stroke="#1e90ff" stroke-width="1" shape-rendering="crispEdges"/><text x="-6" y="761" font-size="10" fill="#000" text-anchor="start" font-weight="normal" textLength="66.78" lengthAdjust="spacingAndGlyphs">RSI(14) 74.1359</text><line x1="1219" y1="155.5" x2="1495.4" y2="70.3" stroke="#ff0000" stroke-width="2.9" stroke-linecap="butt" shape-rendering="crispEdges"/><polygon points="1505,67.4 1494.9,75.4 1492.1,66.4" fill="#ff0000" shape-rendering="crispEdges"/><line x1="1319.5" y1="667.5" x2="1442.0" y2="658.5" stroke="#ff0000" stroke-width="3" stroke-linecap="butt" shape-rendering="crispEdges"/><polygon points="1451,657.8 1440.4,663.4 1439.7,653.8" fill="#ff0000" shape-rendering="crispEdges"/><line x1="1305.5" y1="816.5" x2="1430.2" y2="791.5" stroke="#ff0000" stroke-width="3" stroke-linecap="butt" shape-rendering="crispEdges"/><polygon points="1440,789.5 1429.2,796.6 1427.3,787.2" fill="#ff0000" shape-rendering="crispEdges"/><rect x="1649" y="571" width="2" height="1" fill="#000"/><text x="1654" y="575" font-size="10" fill="#000" text-anchor="start" font-weight="normal" textLength="32.93" lengthAdjust="spacingAndGlyphs">114.325</text><rect x="1649" y="538" width="2" height="1" fill="#000"/><text x="1654" y="542" font-size="10" fill="#000" text-anchor="start" font-weight="normal" textLength="32.93" lengthAdjust="spacingAndGlyphs">115.150</text><rect x="1649" y="505" width="2" height="1" fill="#000"/><text x="1654" y="509" font-size="10" fill="#000" text-anchor="start" font-weight="normal" textLength="32.93" lengthAdjust="spacingAndGlyphs">116.000</text><rect x="1649" y="472" width="2" height="1" fill="#000"/><text x="1654" y="476" font-size="10" fill="#000" text-anchor="start" font-weight="normal" textLength="32.93" lengthAdjust="spacingAndGlyphs">116.825</text><rect x="1649" y="439" width="2" height="1" fill="#000"/><text x="1654" y="443" font-size="10" fill="#000" text-anchor="start" font-weight="normal" textLength="32.93" lengthAdjust="spacingAndGlyphs">117.675</text><rect x="1649" y="406" width="2" height="1" fill="#000"/><text x="1654" y="410" font-size="10" fill="#000" text-anchor="start" font-weight="normal" textLength="32.93" lengthAdjust="spacingAndGlyphs">118.500</text><rect x="1649" y="373" width="2" height="1" fill="#000"/><text x="1654" y="377" font-size="10" fill="#000" text-anchor="start" font-weight="normal" textLength="32.93" lengthAdjust="spacingAndGlyphs">119.350</text><rect x="1649" y="340" width="2" height="1" fill="#000"/><text x="1654" y="344" font-size="10" fill="#000" text-anchor="start" font-weight="normal" textLength="33.62" lengthAdjust="spacingAndGlyphs">120.175</text><rect x="1649" y="307" width="2" height="1" fill="#000"/><text x="1654" y="311" font-size="10" fill="#000" text-anchor="start" font-weight="normal" textLength="33.62" lengthAdjust="spacingAndGlyphs">121.025</text><rect x="1649" y="274" width="2" height="1" fill="#000"/><text x="1654" y="278" font-size="10" fill="#000" text-anchor="start" font-weight="normal" textLength="33.62" lengthAdjust="spacingAndGlyphs">121.875</text><rect x="1649" y="241" width="2" height="1" fill="#000"/><text x="1654" y="245" font-size="10" fill="#000" text-anchor="start" font-weight="normal" textLength="33.62" lengthAdjust="spacingAndGlyphs">122.700</text><rect x="1649" y="208" width="2" height="1" fill="#000"/><text x="1654" y="212" font-size="10" fill="#000" text-anchor="start" font-weight="normal" textLength="33.62" lengthAdjust="spacingAndGlyphs">123.550</text><rect x="1649" y="175" width="2" height="1" fill="#000"/><text x="1654" y="179" font-size="10" fill="#000" text-anchor="start" font-weight="normal" textLength="33.62" lengthAdjust="spacingAndGlyphs">124.375</text><text x="1654" y="45" font-size="10" fill="#000" text-anchor="start" font-weight="normal" textLength="33.62" lengthAdjust="spacingAndGlyphs">127.750</text><text x="1654" y="146" font-size="10" fill="#000" text-anchor="start" font-weight="normal" textLength="33.62" lengthAdjust="spacingAndGlyphs">125.225</text><rect x="1650" y="19" width="41" height="10" fill="#ff0000"/><text x="1654" y="27" font-size="10" fill="#fff" text-anchor="start" font-weight="normal" textLength="32.89" lengthAdjust="spacingAndGlyphs">128.209</text><rect x="1650" y="42" width="41" height="11" fill="#ff0000"/><text x="1654" y="51" font-size="10" fill="#fff" text-anchor="start" font-weight="normal" textLength="32.89" lengthAdjust="spacingAndGlyphs">127.615</text><rect x="1650" y="68" width="41" height="10" fill="#000000"/><text x="1654" y="77" font-size="10" fill="#fff" text-anchor="start" font-weight="normal" textLength="32.89" lengthAdjust="spacingAndGlyphs">126.980</text><rect x="1650" y="78" width="41" height="11" fill="#32cd32"/><text x="1654" y="87" font-size="10" fill="#fff" text-anchor="start" font-weight="normal" textLength="32.89" lengthAdjust="spacingAndGlyphs">126.686</text><rect x="1650" y="105" width="41" height="11" fill="#0000ff"/><text x="1654" y="114" font-size="10" fill="#fff" text-anchor="start" font-weight="normal" textLength="32.89" lengthAdjust="spacingAndGlyphs">126.022</text><rect x="1650" y="132" width="41" height="11" fill="#0000ff"/><text x="1654" y="141" font-size="10" fill="#fff" text-anchor="start" font-weight="normal" textLength="32.89" lengthAdjust="spacingAndGlyphs">125.334</text><rect x="1649" y="578" width="2" height="1" fill="#000"/><rect x="1649" y="719" width="2" height="1" fill="#000"/><rect x="1649" y="745" width="2" height="1" fill="#000"/><text x="1652" y="587" font-size="10" fill="#000" text-anchor="start" font-weight="normal" textLength="28.45" lengthAdjust="spacingAndGlyphs">0.9337</text><text x="1652" y="723" font-size="10" fill="#000" text-anchor="start" font-weight="normal" textLength="18.1" lengthAdjust="spacingAndGlyphs">0.00</text><text x="1652" y="743" font-size="10" fill="#000" text-anchor="start" font-weight="normal" textLength="31.54" lengthAdjust="spacingAndGlyphs">-0.1744</text><rect x="1649" y="750" width="2" height="1" fill="#000"/><rect x="1649" y="784" width="2" height="1" fill="#000"/><rect x="1649" y="835" width="2" height="1" fill="#000"/><rect x="1649" y="896" width="2" height="1" fill="#000"/><rect x="1649" y="921" width="2" height="1" fill="#000"/><text x="1652" y="759" font-size="10" fill="#000" text-anchor="start" font-weight="normal" textLength="15.52" lengthAdjust="spacingAndGlyphs">100</text><text x="1652" y="788" font-size="10" fill="#000" text-anchor="start" font-weight="normal" textLength="10.34" lengthAdjust="spacingAndGlyphs">80</text><text x="1652" y="839" font-size="10" fill="#000" text-anchor="start" font-weight="normal" textLength="10.34" lengthAdjust="spacingAndGlyphs">50</text><text x="1652" y="900" font-size="10" fill="#000" text-anchor="start" font-weight="normal" textLength="10.34" lengthAdjust="spacingAndGlyphs">15</text><text x="1652" y="919" font-size="10" fill="#000" text-anchor="start" font-weight="normal" textLength="5.17" lengthAdjust="spacingAndGlyphs">0</text><rect x="53" y="923" width="1" height="3" fill="#000"/><text x="52" y="935" font-size="10" fill="#000" text-anchor="start" font-weight="normal" textLength="50.48" lengthAdjust="spacingAndGlyphs">9 Mar 00:00</text><rect x="117" y="923" width="1" height="3" fill="#000"/><text x="116" y="935" font-size="10" fill="#000" text-anchor="start" font-weight="normal" textLength="55.74" lengthAdjust="spacingAndGlyphs">10 Mar 08:00</text><rect x="181" y="923" width="1" height="3" fill="#000"/><text x="180" y="935" font-size="10" fill="#000" text-anchor="start" font-weight="normal" textLength="55.04" lengthAdjust="spacingAndGlyphs">11 Mar 16:00</text><rect x="245" y="923" width="1" height="3" fill="#000"/><text x="244" y="935" font-size="10" fill="#000" text-anchor="start" font-weight="normal" textLength="55.74" lengthAdjust="spacingAndGlyphs">15 Mar 00:00</text><rect x="309" y="923" width="1" height="3" fill="#000"/><text x="308" y="935" font-size="10" fill="#000" text-anchor="start" font-weight="normal" textLength="55.74" lengthAdjust="spacingAndGlyphs">16 Mar 08:00</text><rect x="373" y="923" width="1" height="3" fill="#000"/><text x="372" y="935" font-size="10" fill="#000" text-anchor="start" font-weight="normal" textLength="55.74" lengthAdjust="spacingAndGlyphs">17 Mar 16:00</text><rect x="437" y="923" width="1" height="3" fill="#000"/><text x="436" y="935" font-size="10" fill="#000" text-anchor="start" font-weight="normal" textLength="55.74" lengthAdjust="spacingAndGlyphs">21 Mar 00:00</text><rect x="501" y="923" width="1" height="3" fill="#000"/><text x="500" y="935" font-size="10" fill="#000" text-anchor="start" font-weight="normal" textLength="55.74" lengthAdjust="spacingAndGlyphs">22 Mar 08:00</text><rect x="565" y="923" width="1" height="3" fill="#000"/><text x="564" y="935" font-size="10" fill="#000" text-anchor="start" font-weight="normal" textLength="55.74" lengthAdjust="spacingAndGlyphs">23 Mar 16:00</text><rect x="629" y="923" width="1" height="3" fill="#000"/><text x="628" y="935" font-size="10" fill="#000" text-anchor="start" font-weight="normal" textLength="55.74" lengthAdjust="spacingAndGlyphs">25 Mar 00:00</text><rect x="693" y="923" width="1" height="3" fill="#000"/><text x="692" y="935" font-size="10" fill="#000" text-anchor="start" font-weight="normal" textLength="55.74" lengthAdjust="spacingAndGlyphs">28 Mar 08:00</text><rect x="757" y="923" width="1" height="3" fill="#000"/><text x="756" y="935" font-size="10" fill="#000" text-anchor="start" font-weight="normal" textLength="55.74" lengthAdjust="spacingAndGlyphs">29 Mar 16:00</text><rect x="821" y="923" width="1" height="3" fill="#000"/><text x="820" y="935" font-size="10" fill="#000" text-anchor="start" font-weight="normal" textLength="55.74" lengthAdjust="spacingAndGlyphs">31 Mar 00:00</text><rect x="885" y="923" width="1" height="3" fill="#000"/><text x="884" y="935" font-size="10" fill="#000" text-anchor="start" font-weight="normal" textLength="48.39" lengthAdjust="spacingAndGlyphs">1 Apr 08:00</text><rect x="949" y="923" width="1" height="3" fill="#000"/><text x="948" y="935" font-size="10" fill="#000" text-anchor="start" font-weight="normal" textLength="48.39" lengthAdjust="spacingAndGlyphs">4 Apr 16:00</text><rect x="1013" y="923" width="1" height="3" fill="#000"/><text x="1012" y="935" font-size="10" fill="#000" text-anchor="start" font-weight="normal" textLength="48.39" lengthAdjust="spacingAndGlyphs">6 Apr 00:00</text><rect x="1077" y="923" width="1" height="3" fill="#000"/><text x="1076" y="935" font-size="10" fill="#000" text-anchor="start" font-weight="normal" textLength="48.39" lengthAdjust="spacingAndGlyphs">7 Apr 08:00</text><rect x="1141" y="923" width="1" height="3" fill="#000"/><text x="1140" y="935" font-size="10" fill="#000" text-anchor="start" font-weight="normal" textLength="48.39" lengthAdjust="spacingAndGlyphs">8 Apr 16:00</text><rect x="1205" y="923" width="1" height="3" fill="#000"/><text x="1204" y="935" font-size="10" fill="#000" text-anchor="start" font-weight="normal" textLength="53.65" lengthAdjust="spacingAndGlyphs">12 Apr 00:00</text><rect x="1269" y="923" width="1" height="3" fill="#000"/><text x="1268" y="935" font-size="10" fill="#000" text-anchor="start" font-weight="normal" textLength="53.65" lengthAdjust="spacingAndGlyphs">13 Apr 08:00</text><rect x="1333" y="923" width="1" height="3" fill="#000"/><text x="1332" y="935" font-size="10" fill="#000" text-anchor="start" font-weight="normal" textLength="53.65" lengthAdjust="spacingAndGlyphs">14 Apr 16:00</text><rect x="1397" y="923" width="1" height="3" fill="#000"/><text x="1396" y="935" font-size="10" fill="#000" text-anchor="start" font-weight="normal" textLength="53.65" lengthAdjust="spacingAndGlyphs">18 Apr 00:00</text><text x="-12" y="935" font-size="10" fill="#000" text-anchor="start" font-weight="normal" textLength="47.85" lengthAdjust="spacingAndGlyphs">8 Mar 2022</text></svg>
<svg width="1695" height="19" viewBox="0 0 1695 19" style="position:absolute;left:0;top:0" font-family="'Liberation Sans',Arial,sans-serif"><rect x="0" y="0" width="1695" height="16" fill="#f0f0f0"/><rect x="0" y="16" width="1695" height="1" fill="#cfcfcf"/><rect x="0" y="17" width="1695" height="1" fill="#a0a0a0"/><rect x="0" y="18" width="1695" height="1" fill="#808080"/><polygon points="0,10 2,12 0,14" fill="#c8901a"/><rect x="9" y="0" width="1" height="15" fill="#a0a0a0"/><rect x="10" y="0" width="1" height="15" fill="#fff"/><rect x="19.5" y="-3.5" width="10" height="13" rx="1" fill="#fff" stroke="#707070"/><rect x="21" y="1" width="6" height="1" fill="#909090"/><rect x="21" y="4" width="5" height="1" fill="#909090"/><rect x="21" y="7" width="3" height="1" fill="#909090"/><path d="M27.5 3.5h3v4h4v3h-4v4h-3v-4h-4v-3h4z" fill="#22dd22" stroke="#0a8a0a" stroke-width="1"/><text x="38" y="8.5" font-size="12.5" font-family="'Liberation Sans','Noto Sans CJK SC','WenQuanYi Zen Hei',sans-serif" fill="#000" textLength="36" lengthAdjust="spacingAndGlyphs">新订单</text><polygon points="86,7 92,-1 102,5 96,13" fill="#e8b820" stroke="#a86a10" stroke-width="1"/><polygon points="87,8 96,13 96,11 88,6" fill="#f8e080"/><rect x="116" y="-2" width="10" height="9" fill="#1a8ef0"/><rect x="120" y="1" width="5" height="2" fill="#d0ecff"/><path d="M115.5 12.5 q-1 -4 3 -4 q1 -3 5 -2 q4 -1 4 3 q3 0 2 3 z" fill="#eef2fa" stroke="#4a70b0" stroke-width="1"/><circle cx="150" cy="5" r="7.5" fill="none" stroke="#7aa0d8" stroke-width="1"/><circle cx="150" cy="5" r="5" fill="none" stroke="#6090d0" stroke-width="1"/><path d="M150 5 v8 a7.5 7.5 0 0 0 7 -6" fill="none" stroke="#30a030" stroke-width="1.2"/><circle cx="150" cy="4.5" r="1.8" fill="#1050c0"/><ellipse cx="177" cy="1" rx="7" ry="4" fill="#58b0e0" stroke="#3080b8"/><polygon points="170,5 184,5 182,12 177,13" fill="#f0d040" stroke="#c09010"/><circle cx="181.5" cy="8.5" r="4" fill="#d02010"/><rect x="180" y="7" width="3" height="3" fill="#fff"/><text x="191" y="8.5" font-size="12.5" font-family="'Liberation Sans','Noto Sans CJK SC','WenQuanYi Zen Hei',sans-serif" fill="#000" textLength="46" lengthAdjust="spacingAndGlyphs">自动交易</text><rect x="245" y="0" width="1" height="15" fill="#a0a0a0"/><rect x="246" y="0" width="1" height="15" fill="#fff"/><rect x="249" y="1" width="3" height="1" fill="#a0a0a0"/><rect x="249" y="3" width="3" height="1" fill="#a0a0a0"/><rect x="249" y="5" width="3" height="1" fill="#a0a0a0"/><rect x="249" y="7" width="3" height="1" fill="#a0a0a0"/><rect x="249" y="9" width="3" height="1" fill="#a0a0a0"/><rect x="249" y="11" width="3" height="1" fill="#a0a0a0"/><rect x="249" y="13" width="3" height="1" fill="#a0a0a0"/><rect x="263" y="-1" width="1" height="14" fill="#404040"/><rect x="261" y="11" width="14" height="1" fill="#404040"/><polygon points="274,9.5 276,11.5 274,13.5" fill="#404040"/><path d="M268.5 0v7 M268.5 3h2 M266.5 6h2" stroke="#20a020" stroke-width="1" fill="none"/><rect x="283" y="0" width="1" height="15" fill="#a0a0a0"/><rect x="284" y="0" width="1" height="15" fill="#fff"/><rect x="285" y="0" width="22" height="15" fill="#f7f7f7" stroke="#e4e4e4" stroke-width="1"/><rect x="291" y="-1" width="1" height="14" fill="#404040"/><rect x="289" y="11" width="14" height="1" fill="#404040"/><polygon points="302,9.5 304,11.5 302,13.5" fill="#404040"/><rect x="294" y="-1" width="4" height="8" fill="#22bb22" stroke="#107010"/><rect x="295.5" y="7" width="1" height="2" fill="#107010"/><rect x="319" y="-1" width="1" height="14" fill="#404040"/><rect x="317" y="11" width="14" height="1" fill="#404040"/><polygon points="330,9.5 332,11.5 330,13.5" fill="#404040"/><path d="M319 9 L324 3 L327 4 L331 7" stroke="#20a020" stroke-width="1" fill="none"/><rect x="340" y="0" width="1" height="15" fill="#a0a0a0"/><rect x="341" y="0" width="1" height="15" fill="#fff"/><circle cx="354" cy="2" r="4.5" fill="#d8ecff" stroke="#3070d0" stroke-width="1.4"/><path d="M357 5 L363 11" stroke="#d0a020" stroke-width="2.6"/><rect x="351.5" y="1.3" width="5" height="1.4" fill="#2060c0"/><rect x="353.3" y="-0.5" width="1.4" height="5" fill="#2060c0"/><circle cx="382" cy="2" r="4.5" fill="#d8ecff" stroke="#3070d0" stroke-width="1.4"/><path d="M385 5 L391 11" stroke="#d0a020" stroke-width="2.6"/><rect x="379.5" y="1.3" width="5" height="1.4" fill="#2060c0"/><rect x="405" y="-2" width="7" height="6" fill="#fff" stroke="#30a030"/><rect x="413" y="-2" width="7" height="6" fill="#fff" stroke="#3060c0"/><rect x="405" y="5" width="7" height="7" fill="#2a60d0" stroke="#2050b0"/><rect x="413" y="5" width="7" height="7" fill="#40b040" stroke="#208020"/><rect x="406" y="8" width="5" height="2" fill="#fff"/><rect x="414" y="8" width="5" height="2" fill="#fff"/><rect x="430" y="0" width="1" height="15" fill="#a0a0a0"/><rect x="431" y="0" width="1" height="15" fill="#fff"/><rect x="435" y="0" width="1" height="15" fill="#a0a0a0"/><rect x="436" y="0" width="1" height="15" fill="#fff"/><rect x="443" y="-1" width="1" height="14" fill="#404040"/><rect x="441" y="11" width="14" height="1" fill="#404040"/><polygon points="454,9.5 456,11.5 454,13.5" fill="#404040"/><polygon points="448,0 448,7 452,3.5" fill="#22aa22"/><rect x="463" y="0" width="25" height="15" fill="#f7f7f7" stroke="#e4e4e4" stroke-width="1"/><rect x="471" y="-1" width="1" height="14" fill="#404040"/><rect x="469" y="11" width="14" height="1" fill="#404040"/><polygon points="482,9.5 484,11.5 482,13.5" fill="#404040"/><rect x="476" y="-1" width="1" height="10" fill="#3060c0"/><polygon points="478,3 482,1 482,5" fill="#e04010"/><rect x="480" y="2.5" width="4" height="1" fill="#e04010"/><rect x="492" y="0" width="1" height="15" fill="#a0a0a0"/><rect x="493" y="0" width="1" height="15" fill="#fff"/><rect x="502.5" y="-3.5" width="9" height="11" fill="#fff" stroke="#707070"/><path d="M509.5 3.5h4v4h4v3h-4v4h-4v-4h-4v-3h4z" fill="#22dd22" stroke="#0a8a0a"/><polygon points="524,4 529,4 526.5,7" fill="#000"/><circle cx="548" cy="4.5" r="8" fill="#1a64c8"/><circle cx="548" cy="4.5" r="6" fill="#f4f8ff"/><path d="M547.5 0.5v4.5h3" stroke="#303030" stroke-width="1.2" fill="none"/><polygon points="562,4 567,4 564.5,7" fill="#000"/><rect x="579.5" y="-2.5" width="15" height="14" fill="#f0f6ff" stroke="#3a70c0"/><path d="M581 3 l3 -1 l3 1 l3 -2 l3 1" stroke="#c03020" fill="none"/><rect x="580" y="5" width="14" height="1" fill="#3a70c0"/><path d="M581 9 l3 -1 l3 1 l3 -2 l3 1" stroke="#20a020" fill="none"/><polygon points="601,4 606,4 603.5,7" fill="#000"/><rect x="613" y="0" width="1" height="15" fill="#a0a0a0"/><rect x="614" y="0" width="1" height="15" fill="#fff"/><rect x="617" y="1" width="3" height="1" fill="#a0a0a0"/><rect x="617" y="3" width="3" height="1" fill="#a0a0a0"/><rect x="617" y="5" width="3" height="1" fill="#a0a0a0"/><rect x="617" y="7" width="3" height="1" fill="#a0a0a0"/><rect x="617" y="9" width="3" height="1" fill="#a0a0a0"/><rect x="617" y="11" width="3" height="1" fill="#a0a0a0"/><rect x="617" y="13" width="3" height="1" fill="#a0a0a0"/><rect x="623" y="0" width="1" height="15" fill="#a0a0a0"/><rect x="624" y="0" width="1" height="15" fill="#fff"/><rect x="625" y="0" width="23" height="15" fill="#f7f7f7" stroke="#e4e4e4" stroke-width="1"/><polygon points="631,-1 631,11 634,8 636,13 638,12 636,7 640,7" fill="#404040"/><rect x="663" y="-1" width="1" height="5" fill="#404040"/><rect x="663" y="7" width="1" height="6" fill="#404040"/><rect x="655" y="5" width="6" height="1" fill="#404040"/><rect x="666" y="5" width="6" height="1" fill="#404040"/><rect x="696" y="-1" width="1" height="13" fill="#404040"/><rect x="720" y="5" width="12" height="1" fill="#404040"/><path d="M748 12 L760 0" stroke="#404040" stroke-width="1"/><path d="M774 11 L786 -1 M777 12 L789 0 M775 7 L782 3" stroke="#404040" stroke-width="1"/><text x="784" y="14" font-size="7" font-weight="bold" fill="#404040">E</text><path d="M803 0.5h12 M803 3.5h12 M803 7.5h9" stroke="#404040" stroke-dasharray="1,1"/><text x="812" y="14" font-size="7" font-weight="bold" fill="#404040">F</text><text x="833" y="10" font-size="12" font-weight="bold" fill="#505050">A</text><rect x="860.5" y="0.5" width="11" height="11" fill="none" stroke="#606060" stroke-dasharray="1,1"/><text x="862.5" y="9.5" font-size="10" font-weight="bold" fill="#404040">T</text><path d="M889 3 l2 2 l3 -4 M891 -1 l2 -2" stroke="#303030" stroke-width="1.4" fill="none"/><polygon points="893,6 897,4 901,7 897,10" fill="#303030"/><polygon points="908,4 913,4 910.5,7" fill="#000"/><rect x="919" y="0" width="1" height="15" fill="#a0a0a0"/><rect x="920" y="0" width="1" height="15" fill="#fff"/><rect x="923" y="1" width="3" height="1" fill="#a0a0a0"/><rect x="923" y="3" width="3" height="1" fill="#a0a0a0"/><rect x="923" y="5" width="3" height="1" fill="#a0a0a0"/><rect x="923" y="7" width="3" height="1" fill="#a0a0a0"/><rect x="923" y="9" width="3" height="1" fill="#a0a0a0"/><rect x="923" y="11" width="3" height="1" fill="#a0a0a0"/><rect x="923" y="13" width="3" height="1" fill="#a0a0a0"/><rect x="1070" y="0" width="24" height="15" fill="#f7f7f7" stroke="#e4e4e4" stroke-width="1"/><rect x="1068" y="0" width="1" height="15" fill="#a0a0a0"/><text x="934" y="9" font-size="9.3" fill="#000" textLength="13" lengthAdjust="spacingAndGlyphs">M1</text><text x="962" y="9" font-size="9.3" fill="#000" textLength="13.5" lengthAdjust="spacingAndGlyphs">M5</text><text x="988.5" y="9" font-size="9.3" fill="#000" textLength="17.5" lengthAdjust="spacingAndGlyphs">M15</text><text x="1016.5" y="9" font-size="9.3" fill="#000" textLength="18" lengthAdjust="spacingAndGlyphs">M30</text><text x="1047.5" y="9" font-size="9.3" fill="#000" textLength="12" lengthAdjust="spacingAndGlyphs">H1</text><text x="1074.5" y="9" font-size="9.3" fill="#000" textLength="12.5" lengthAdjust="spacingAndGlyphs">H4</text><text x="1103" y="9" font-size="9.3" fill="#000" textLength="12.5" lengthAdjust="spacingAndGlyphs">D1</text><text x="1131" y="9" font-size="9.3" fill="#000" textLength="14.5" lengthAdjust="spacingAndGlyphs">W1</text><text x="1157.5" y="9" font-size="9.3" fill="#000" textLength="15" lengthAdjust="spacingAndGlyphs">MN</text><rect x="1180" y="0" width="1" height="15" fill="#a0a0a0"/><rect x="1181" y="0" width="1" height="15" fill="#fff"/><circle cx="1650.5" cy="1.5" r="3.5" fill="none" stroke="#2a62d0" stroke-width="1.6"/><path d="M1648 4 L1643 9.5" stroke="#1a50c0" stroke-width="2.4"/><ellipse cx="1673" cy="7" rx="5" ry="4" fill="#e8e8e8" stroke="#b0b0b0"/><polygon points="1670,10 1671,14 1674,10.5" fill="#d0d0d0"/><circle cx="1681" cy="1.5" r="8" fill="#d83018"/><text x="1681" y="6" font-size="10" fill="#fff" text-anchor="middle">1</text></svg>
<div style="position:absolute;left:0;top:37px;width:213px;height:62px;background:#fff"></div><div style="position:absolute;left:0;top:41px;width:43px;height:24px;border-top:1px solid #0000b0;border-right:1px solid #0000b0;background:linear-gradient(#5c5cff,#3a36e2)"></div><div style="position:absolute;left:0;top:65px;width:100px;height:31px;border-top:1px solid #0000b0;border-right:1px solid #0000b0;border-bottom:1px solid #0000b0;background:linear-gradient(#3530e0,#0800b0)"></div><div style="position:absolute;left:0;top:64px;width:40px;height:1px;background:#00008a"></div><div style="position:absolute;left:0;top:65px;width:40px;height:1px;background:#7474ff"></div><div style="position:absolute;left:40px;top:65px;width:3px;height:1px;background:#3a36e2"></div><div style="position:absolute;left:103px;top:65px;width:106px;height:31px;border:1px solid #0000b0;background:linear-gradient(#3530e0,#0800b0)"></div><div style="position:absolute;left:159px;top:41px;width:50px;height:24px;border-top:1px solid #0000b0;border-left:1px solid #0000b0;border-right:1px solid #0000b0;background:linear-gradient(#5c5cff,#3a36e2)"></div><div style="position:absolute;left:160px;top:65px;width:50px;height:1px;background:#3a36e2"></div><div style="position:absolute;left:163px;top:64px;width:44px;height:1px;background:#00008a"></div><div style="position:absolute;left:163px;top:65px;width:44px;height:1px;background:#7474ff"></div><div style="position:absolute;left:46px;top:41px;width:109px;height:20px;border:1px solid #a8a8a8;background:#fff"></div><div style="position:absolute;left:47px;top:42px;width:18px;height:18px;border:1px solid #f8f8f8;background:linear-gradient(#f4f4f4 0,#ececec 45%,#dcdcdc 50%,#d4d4d4 100%)"></div><div style="position:absolute;left:67px;top:42px;width:1px;height:20px;background:#a8a8a8"></div><div style="position:absolute;left:135px;top:42px;width:1px;height:20px;background:#a8a8a8"></div><div style="position:absolute;left:136px;top:42px;width:18px;height:18px;border:1px solid #f8f8f8;background:linear-gradient(#f4f4f4 0,#ececec 45%,#dcdcdc 50%,#d4d4d4 100%)"></div><svg style="position:absolute;left:0;top:0" width="215" height="100"><polygon points="54,50 59,50 56.5,53" fill="#4a5ac8"/><polygon points="143,53 148,53 145.5,50" fill="#4a5ac8"/><g font-family="'Liberation Sans',Arial,sans-serif" fill="#fff"><text x="4.5" y="57" font-size="12" textLength="25.5" lengthAdjust="spacingAndGlyphs">SELL</text><text x="172.5" y="57" font-size="12" textLength="23.5" lengthAdjust="spacingAndGlyphs">BUY</text><text x="15.5" y="93" font-size="12.6" font-weight="bold" textLength="20.5" lengthAdjust="spacingAndGlyphs">126</text><text x="39.5" y="93" font-size="33.5" textLength="35" lengthAdjust="spacingAndGlyphs">98</text><text x="78.5" y="77.3" font-size="12" textLength="7.5" lengthAdjust="spacingAndGlyphs">0</text><text x="125.5" y="93" font-size="12.6" font-weight="bold" textLength="20.5" lengthAdjust="spacingAndGlyphs">126</text><text x="150.5" y="93" font-size="33.5" textLength="35" lengthAdjust="spacingAndGlyphs">99</text><text x="189.5" y="77.3" font-size="12" textLength="7.5" lengthAdjust="spacingAndGlyphs">7</text></g><text x="131.5" y="56.3" font-size="12.2" font-family="'Liberation Sans',Arial,sans-serif" fill="#000" text-anchor="end">1.00</text></svg>
</body></html>
